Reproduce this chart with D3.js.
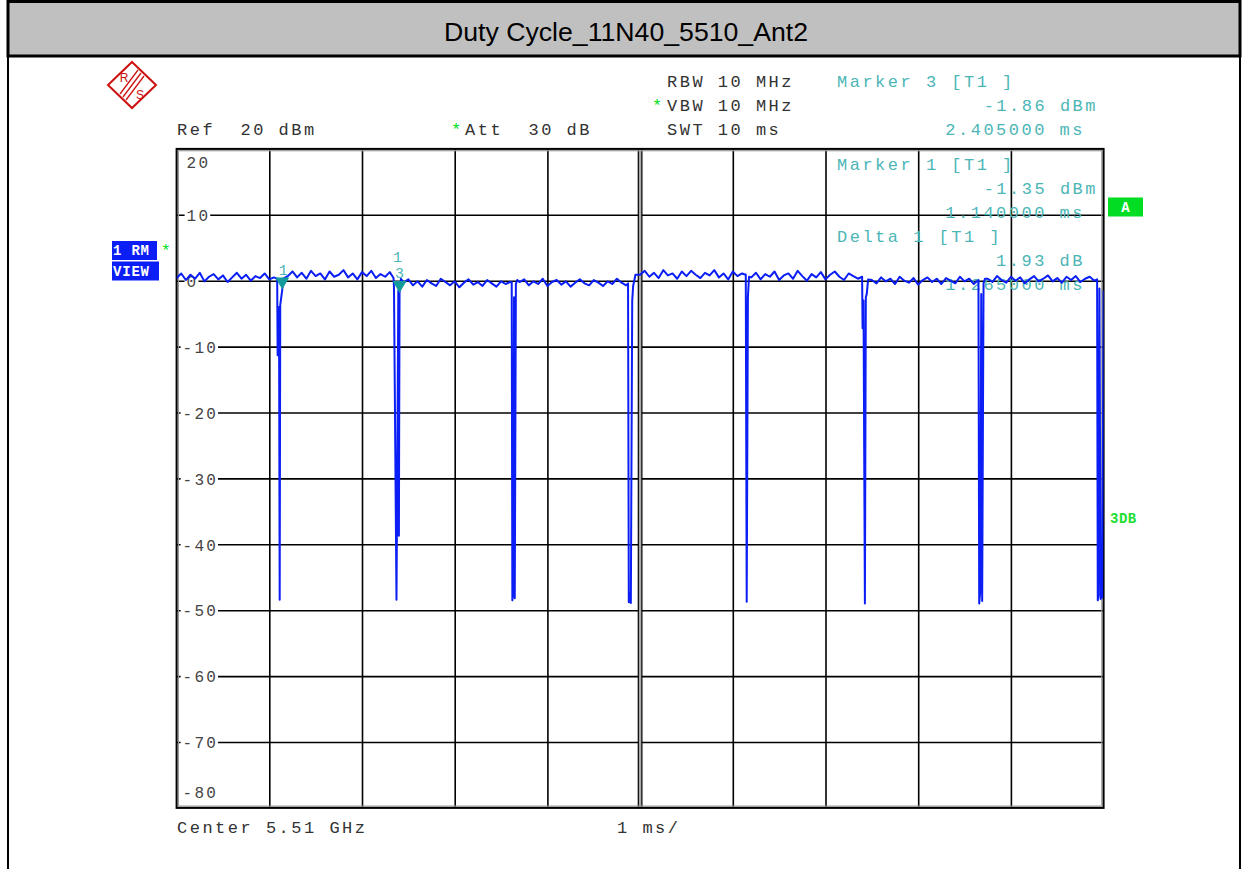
<!DOCTYPE html>
<html><head><meta charset="utf-8">
<script src="https://cdn.jsdelivr.net/npm/d3@7"></script>
<style>
html,body{margin:0;padding:0;background:#fff;}
svg{display:block;}
text{white-space:pre;}
</style></head>
<body>
<script>
// ---------- DATA ----------
const title = "Duty Cycle_11N40_5510_Ant2";
const yTicks = [20, 10, 0, -10, -20, -30, -40, -50, -60, -70, -80];
const xDivisions = [0,1,2,3,4,5,6,7,8,9,10];   // ms, 1 ms/div
const timeStep = 0.05; // ms between baseline samples
// baseline trace level (dBm) sampled every 0.05 ms from 0 to 10 ms
const baseline = [
 0.4,1.1,0.1,0.9,0.3,1.2,-0.1,0.6,1.0,0.2,0.8,-0.2,0.5,1.2,0.3,0.9,0.0,0.7,0.4,1.1,0.2,0.5,
 0.5,
 0.3,0.7,1.4,0.5,1.2,0.3,1.5,0.7,1.1,0.2,1.4,0.6,0.9,1.6,0.5,1.1,0.2,1.3,0.7,1.5,0.4,1.0,0.6,1.3,
 0.8,0.2,
 -0.3,0.2,-0.7,-0.1,-0.9,0.1,-0.4,-0.8,0.3,-0.2,-0.7,-0.1,-1.0,-0.3,0.2,-0.6,-0.2,-0.8,0.1,-0.4,-0.9,-0.1,-0.5,-0.2,
 -0.3,
 -0.2,0.2,-0.7,-0.1,-0.5,0.3,-0.8,-0.2,0.1,-0.6,-0.1,-0.9,-0.3,0.2,-0.4,-0.7,0.1,-0.3,-0.8,-0.1,-0.5,0.3,-0.3,-0.7,
 -0.5,0.8,
 0.9,1.5,0.6,1.2,0.4,1.6,0.8,1.1,0.3,1.4,0.7,1.5,0.9,0.4,1.2,0.8,1.6,0.5,1.1,0.2,1.4,0.7,1.1,
 0.8,
 0.5,1.2,0.2,1.0,0.6,1.4,0.1,0.8,1.1,0.3,1.5,0.7,0.0,1.0,0.5,1.3,0.2,0.9,1.4,0.6,0.1,1.1,0.7,0.3,
 0.5,0.2,
 0.1,-0.4,0.5,-0.1,0.3,-0.5,0.6,0.0,-0.3,0.4,-0.6,0.1,0.5,-0.2,0.3,-0.5,0.4,0.0,-0.4,0.6,-0.1,0.3,-0.5,0.1,
 0.0,
 0.3,-0.2,0.7,0.1,-0.3,0.6,0.0,0.5,-0.4,0.2,0.7,-0.1,0.3,0.8,-0.1,0.4,-0.3,0.6,0.1,0.7,-0.2,0.3,0.6,0.0,
 0.2,0.1
];
// burst gaps: [ms, dBm]
const dip1 = [[1.085,0.3],[1.090,-11.3],[1.105,-4.0],[1.112,-48.4],[1.118,-3.7],[1.140,-1.35]];
const dip2 = [[2.340,0.4],[2.345,-1.0],[2.372,-48.4],[2.392,-1.5],[2.398,-38.7],[2.405,-1.86],[2.420,0.3]];
const dip3 = [[3.615,-0.2],[3.622,-48.5],[3.632,-47.0],[3.640,-2.5],[3.648,-48.2],[3.660,-0.5],[3.675,0.1]];
const dip4 = [[4.870,-0.4],[4.878,-48.8],[4.890,-47.5],[4.900,-48.9],[4.915,-3.0],[4.925,-0.8],[4.950,0.9]];
const dip5 = [[6.140,0.9],[6.150,-48.7],[6.163,-2.5],[6.175,0.6]];
const dip6 = [[7.395,0.6],[7.400,-7.2],[7.410,-3.0],[7.425,-49.0],[7.435,-2.5],[7.445,-2.0],[7.460,0.2]];
const dip7 = [[8.650,0.1],[8.658,-49.0],[8.670,-47.0],[8.680,-2.0],[8.690,-48.6],[8.705,-0.4],[8.720,0.3]];
const dip8 = [[9.930,0.2],[9.937,-48.5],[9.945,-47.8],[9.955,-1.2],[9.968,-48.3],[9.985,-48.0],[10.0,-1.5]];
const dips = [dip1, dip2, dip3, dip4, dip5, dip6, dip7, dip8];
// markers
const markers = [
  {t: 1.140, v: -1.35, labels: ["1"]},
  {t: 2.405, v: -1.86, labels: ["1", "3"]}
];
const headerLeft = ["Ref  20 dBm", "Att  30 dB"];
const headerMid = ["RBW 10 MHz", "VBW 10 MHz", "SWT 10 ms"];
const marker3Text = ["Marker 3 [T1 ]", "-1.86 dBm", "2.405000 ms"];
const marker1Text = ["Marker 1 [T1 ]", "-1.35 dBm", "1.140000 ms"];
const deltaText = ["Delta 1 [T1 ]", "1.93 dB", "1.265000 ms"];
const footer = ["Center 5.51 GHz", "1 ms/"];

// ---------- SETUP ----------
const W = 1245, H = 869;
const svg = d3.select("body").append("svg").attr("width", W).attr("height", H);
const MONO = "'Liberation Mono','DejaVu Sans Mono',monospace";
const TEAL = "#4cb6b6";
const GREEN = "#00dd22";
const BLUE = "#0a1ef5";

const x = d3.scaleLinear().domain([0, 10]).range([176.6, 1103.6]);
const y = d3.scaleLinear().domain([-80, 20]).range([807.9, 148.9]);
const plotW = x(10) - x(0), plotH = y(-80) - y(20);

// ---------- PAGE FRAME ----------
svg.append("rect").attr("x", 8).attr("y", 1.5).attr("width", 1232).attr("height", 54.5)
  .attr("fill", "#c0c0c0").attr("stroke", "#000").attr("stroke-width", 3);
svg.append("line").attr("x1", 8).attr("x2", 8).attr("y1", 56).attr("y2", H).attr("stroke", "#000").attr("stroke-width", 2);
svg.append("line").attr("x1", 1240).attr("x2", 1240).attr("y1", 56).attr("y2", H).attr("stroke", "#000").attr("stroke-width", 2);
svg.append("text").attr("x", 626).attr("y", 41).attr("text-anchor", "middle")
  .attr("font-family", "'Liberation Sans Narrow','Liberation Sans',Arial,sans-serif")
  .attr("font-size", 25).attr("fill", "#000")
  .attr("textLength", 364).attr("lengthAdjust", "spacingAndGlyphs")
  .text(title);

// ---------- R&S LOGO ----------
const logo = svg.append("g").attr("transform", "translate(132,85)");
logo.append("path").attr("d", "M0,-23 L24,0 L0,23 L-24,0 Z").attr("fill", "none").attr("stroke", "#cc1111").attr("stroke-width", 2);
[-3, 0, 3].forEach(o => logo.append("line").attr("x1", -9 + o).attr("y1", 12 + o).attr("x2", 9 + o).attr("y2", -12 + o)
  .attr("stroke", "#cc1111").attr("stroke-width", 1.3));
logo.append("text").attr("x", -8).attr("y", -3).attr("font-family", "Liberation Sans,sans-serif").attr("font-size", 12).attr("fill", "#cc1111").attr("text-anchor", "middle").text("R");
logo.append("text").attr("x", 8).attr("y", 14).attr("font-family", "Liberation Sans,sans-serif").attr("font-size", 12).attr("fill", "#cc1111").attr("text-anchor", "middle").text("S");

// ---------- HEADER TEXT ----------
function monoText(g, tx, ty, str, color, anchor, size, spacing) {
  return g.append("text").attr("x", tx).attr("y", ty)
    .attr("xml:space", "preserve")
    .attr("font-family", MONO).attr("font-size", size || 17)
    .attr("letter-spacing", spacing === undefined ? 2.5 : spacing)
    .attr("fill", color).attr("text-anchor", anchor || "start").text(str);
}
const hdr = svg.append("g");
monoText(hdr, 177, 135, headerLeft[0], "#333");
monoText(hdr, 451, 135, "*", GREEN);
monoText(hdr, 465, 135, headerLeft[1], "#333");
monoText(hdr, 667, 87, headerMid[0], "#333");
monoText(hdr, 652, 111, "*", GREEN);
monoText(hdr, 667, 111, headerMid[1], "#333");
monoText(hdr, 667, 135, headerMid[2], "#333");
monoText(hdr, 837, 87, marker3Text[0], TEAL);
monoText(hdr, 1098, 111, marker3Text[1], TEAL, "end");
monoText(hdr, 1085, 135, marker3Text[2], TEAL, "end");

// ---------- GRID (axes) ----------
const gridG = svg.append("g");
const vTicks = xDivisions.filter(d => d > 0 && d < 10 && d !== 5);
gridG.append("g").attr("transform", `translate(0,${y(-80)})`)
  .call(d3.axisBottom(x).tickValues(vTicks).tickSize(-plotH).tickFormat(""))
  .call(g => g.select(".domain").remove())
  .call(g => g.selectAll("line").attr("stroke", "#000").attr("stroke-width", 1.6));
const hTicks = yTicks.filter(d => d < 20 && d > -80);
gridG.append("g").attr("transform", `translate(${x(0)},0)`)
  .call(d3.axisLeft(y).tickValues(hTicks).tickSize(-plotW).tickFormat(""))
  .call(g => g.select(".domain").remove())
  .call(g => g.selectAll("line").attr("stroke", "#000").attr("stroke-width", 1.6));
// centre double line
gridG.append("rect").attr("x", x(5) - 1.8).attr("y", y(20)).attr("width", 3.6).attr("height", plotH).attr("fill", "#aaa");
[-1.8, 1.8].forEach(o => gridG.append("line").attr("x1", x(5) + o).attr("x2", x(5) + o)
  .attr("y1", y(20)).attr("y2", y(-80)).attr("stroke", "#000").attr("stroke-width", 1.2));

// y labels (inside plot) via axisRight
const lab = svg.append("g").attr("transform", `translate(${x(0)},0)`)
  .call(d3.axisRight(y).tickValues(yTicks).tickSize(0).tickPadding(10).tickFormat(d => d === 0 ? "0" : (d < 0 ? "-" + (-d) : String(d))));
lab.select(".domain").remove();
lab.selectAll("text").attr("font-family", MONO).attr("font-size", 16).attr("letter-spacing", 2.2).attr("fill", "#444")
  .attr("dy", d => d === 20 ? "1.15em" : (d === -80 ? "-0.65em" : "0.36em"))
  .attr("dx", d => d < 0 ? -4 : 0);
lab.selectAll(".tick").each(function(d) {
  if (d === 20 || d === -80) return;
  const t = d3.select(this).select("text");
  const bb = t.node().getBBox();
  d3.select(this).insert("rect", "text").attr("x", bb.x - 2).attr("y", bb.y + 3).attr("width", bb.width + 2).attr("height", bb.height - 6).attr("fill", "#fff");
});

// plot frame
const fr = svg.append("g");
fr.append("rect").attr("x", x(0) + 1.8).attr("y", y(20) + 1.8).attr("width", plotW - 3.6).attr("height", plotH - 3.6)
  .attr("fill", "none").attr("stroke", "#999").attr("stroke-width", 1.2);
fr.append("rect").attr("x", x(0)).attr("y", y(20)).attr("width", plotW).attr("height", plotH)
  .attr("fill", "none").attr("stroke", "#000").attr("stroke-width", 2);

// ---------- MARKER INFO TEXT ----------
const mk = svg.append("g");
monoText(mk, 837, 170, marker1Text[0], TEAL);
monoText(mk, 1098, 194, marker1Text[1], TEAL, "end");
monoText(mk, 1085, 218, marker1Text[2], TEAL, "end");
monoText(mk, 837, 242, deltaText[0], TEAL);
monoText(mk, 1085, 266, deltaText[1], TEAL, "end");
monoText(mk, 1085, 290, deltaText[2], TEAL, "end");

// ---------- TRACE ----------
const ranges = dips.map(d => [d3.min(d, p => p[0]), d3.max(d, p => p[0])]);
const basePts = baseline.map((v, i) => [i * timeStep, v])
  .filter(p => !ranges.some(r => p[0] >= r[0] && p[0] <= r[1]));
const trace = basePts.concat(...dips).sort((a, b) => a[0] - b[0]);
svg.append("clipPath").attr("id", "clip").append("rect").attr("x", x(0)).attr("y", y(20)).attr("width", plotW).attr("height", plotH);
svg.append("path").datum(trace).attr("clip-path", "url(#clip)")
  .attr("d", d3.line().x(d => x(d[0])).y(d => y(d[1])))
  .attr("fill", "none").attr("stroke", BLUE).attr("stroke-width", 2).attr("stroke-linejoin", "round");

// markers
const mg = svg.append("g");
markers.forEach(m => {
  const px = x(m.t), py = y(m.v);
  mg.append("path").attr("d", `M${px - 7},${py - 12} L${px + 7},${py - 12} L${px},${py} Z`).attr("fill", "#139a9a");
  m.labels.forEach((l, i) => {
    mg.append("text").attr("x", px + (m.labels.length > 1 ? (i === 0 ? -2 : 0) : 1)).attr("y", py - 15 - (m.labels.length - 1 - i) * 16)
      .attr("font-family", MONO).attr("font-size", 15).attr("fill", TEAL).attr("text-anchor", "middle").text(l);
  });
});

// ---------- SIDE LABELS ----------
const side = svg.append("g");
side.append("rect").attr("x", 112).attr("y", 241).attr("width", 45).attr("height", 19).attr("fill", BLUE);
side.append("rect").attr("x", 112).attr("y", 261.5).attr("width", 47).attr("height", 19).attr("fill", BLUE);
side.append("text").attr("x", 113).attr("y", 255).attr("font-family", MONO).attr("font-weight", "bold").attr("font-size", 14).attr("letter-spacing", 0.8).attr("fill", "#fff").text("1 RM");
side.append("text").attr("x", 113).attr("y", 276).attr("font-family", MONO).attr("font-weight", "bold").attr("font-size", 14).attr("letter-spacing", 0.8).attr("fill", "#fff").text("VIEW");
side.append("text").attr("x", 161).attr("y", 256).attr("font-family", MONO).attr("font-size", 16).attr("fill", GREEN).text("*");
side.append("rect").attr("x", 1108).attr("y", 197.5).attr("width", 35).attr("height", 19).attr("fill", GREEN);
side.append("text").attr("x", 1125.5).attr("y", 212).attr("text-anchor", "middle").attr("font-family", MONO).attr("font-weight", "bold").attr("font-size", 14).attr("fill", "#fff").text("A");
side.append("text").attr("x", 1110).attr("y", 523).attr("font-family", MONO).attr("font-weight", "bold").attr("font-size", 14).attr("letter-spacing", 0.5).attr("fill", "#22dd33").text("3DB");

// ---------- FOOTER ----------
monoText(svg, 177, 833, footer[0], "#333");
monoText(svg, 617, 833, footer[1], "#333");
</script>
</body></html>
